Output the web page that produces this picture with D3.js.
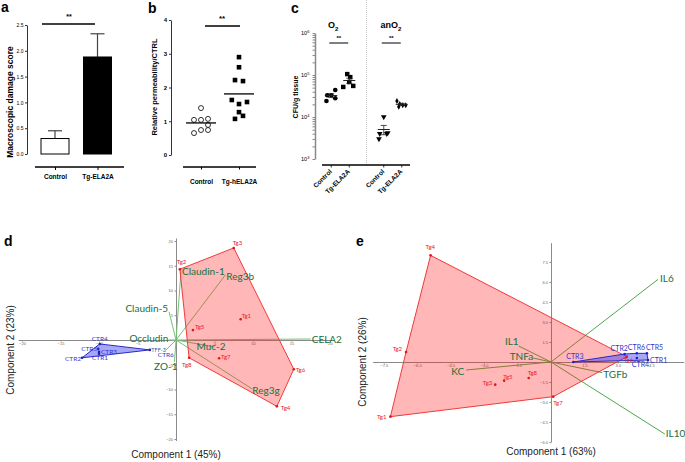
<!DOCTYPE html>
<html><head><meta charset="utf-8">
<script src="https://cdn.jsdelivr.net/npm/d3@7"></script>
<style>body{margin:0;background:#fff;}svg{display:block;}</style>
</head><body>
<svg id="chart" width="685" height="462"></svg>
<script>
// ---------------- DATA ----------------
// panel a
const aCategories = ["Control", "Tg-ELA2A"];
const aMeans = [0.30, 1.88];
const aErrUp = [0.15, 0.45];
const aTicks = [0, 0.5, 1.0, 1.5, 2.0, 2.5];
// panel b
const bCategories = ["Control", "Tg-hELA2A"];
const bControl = [1.39, 1.04, 1.04, 1.07, 0.89, 0.65, 0.74, 0.74];
const bControlJitter = [0, -1, 0, 1, 1, -1, 0, 1];
const bTg = [2.90, 2.60, 2.22, 2.19, 1.63, 1.51, 1.57, 1.27, 1.16, 1.07];
const bTgJitter = [0, 0, -0.5, 0.5, -0.9, 0, 1, 0, 0.5, -0.5];
const bMedians = [0.95, 1.81];
const bTicks = [0, 1, 2, 3, 4];
// panel c
const cConditions = ["O2", "anO2"];
const cGroups = ["Control", "Tg-ELA2A"];
const cO2Control = [33000, 33000, 44000, 24000, 28000];
const cO2ControlJitter = [-1, 0, 1, -1.2, 1];
const cO2Tg = [105000, 89000, 52000, 55000, 68000];
const cO2TgJitter = [-0.5, 0.25, -1.5, 1, 0];
const cAnO2Control = [10000, 4000, 4000, 3000, 4200];
const cAnO2ControlJitter = [0, -1, 0.75, -1.2, 1];
const cAnO2Tg = [24000, 20500, 19000, 19000, 17500];
const cAnO2TgJitter = [-1.2, -0.5, 0.25, 1, -0.75];
const cMajorTicks = [1e3, 1e4, 1e5, 1e6];
// panel d
const dTgLabels = ["Tg1", "Tg2", "Tg3", "Tg4", "Tg5", "Tg6", "Tg7", "Tg8"];
const dTgX = [8.4, 0.5, 7.5, 13.1, 2.2, 15.3, 5.6, 1.7];
const dTgY = [4.2, 14.3, 18.6, -13.4, 2.0, -5.9, -3.7, -3.6];
const dCtrLabels = ["CTR1", "CTR2", "CTR3", "CTR4", "CTR5", "CTR6"];
const dCtrX = [-10.0, -12.2, -10.0, -9.9, -10.1, -3.4];
const dCtrY = [-2.8, -3.6, -2.4, -0.8, -1.8, -2.0];
const dVarLabels = ["Claudin-1", "Reg3b", "CELA2", "Reg3g", "Muc-2", "Claudin-5", "Occludin", "TFF-3", "ZO-1"];
const dVarX = [0.65, 6.4, 17.5, 9.9, 5.0, -0.9, -1.0, -1.3, -0.2];
const dVarY = [13.9, 13.1, 0.2, -9.9, -1.4, 5.7, 0.0, -2.0, -4.4];
const dTicks = [-20, -15, -10, -5, 5, 10, 15, 20];
// panel e
const eTgLabels = ["Tg1", "Tg2", "Tg3", "Tg4", "Tg5", "Tg6", "Tg7", "Tg8"];
const eTgX = [-7.2, -6.5, -2.5, -5.4, -2.1, 3.4, 0.1, -1.0];
const eTgY = [-4.1, 0.75, -1.7, 8.0, -1.4, 0.4, -2.6, -1.2];
const eCtrLabels = ["CTR1", "CTR2", "CTR3", "CTR4", "CTR5", "CTR6"];
const eCtrX = [4.35, 3.3, 1.0, 3.85, 4.3, 3.85];
const eCtrY = [0.15, 0.6, 0.0, 0.3, 0.65, 0.65];
const eVarLabels = ["IL6", "IL10", "TGFb", "IL1", "TNFa", "KC"];
const eVarX = [4.8, 5.1, 2.3, -1.45, -0.8, -3.8];
const eVarY = [6.2, -5.4, -0.8, 1.2, 0.3, -0.6];
const eXTicks = [-7.5, -6.0, -4.5, -3.0, -1.5, 1.5, 3.0, 4.5];
const eYTicks = [-6.0, -4.5, -3.0, -1.5, 1.5, 3.0, 4.5, 6.0, 7.5];

// ---------------- LAYOUT / STYLE ----------------
const SANS = "'Liberation Sans', Arial, sans-serif";
const CAL = "Lato, 'Open Sans', sans-serif";
const RED = "#e8202a", BLUE = "#3535d0", GTXT = "#17703a";
const svg = d3.select("#chart");
svg.append("rect").attr("width", 685).attr("height", 462).attr("fill", "#fff");

function txt(g, s, x, y, o = {}) {
  const t = g.append("text").attr("x", x).attr("y", y).text(s)
    .attr("font-family", o.family || SANS).attr("font-size", o.size || 7)
    .attr("font-weight", o.weight || "normal").attr("fill", o.fill || "#000")
    .attr("text-anchor", o.anchor || "start");
  if (o.rotate !== undefined) t.attr("transform", `rotate(${o.rotate},${x},${y})`);
  return t;
}
function styleAxis(g, size, color, weight, fill) {
  g.select(".domain").attr("stroke", color);
  g.selectAll(".tick line").attr("stroke", color);
  g.selectAll(".tick text").attr("font-size", size).attr("font-family", SANS)
    .attr("fill", fill || "#000").attr("font-weight", weight || "normal");
}
// panel letters
[["a", 1, 12], ["b", 148, 13], ["c", 291, 13], ["d", 4, 246], ["e", 356, 246]].forEach(([l, x, y]) =>
  txt(svg, l, x, y, { size: 14, weight: "bold" }));

// ---------------- PANEL A ----------------
{
  const g = svg.append("g");
  const y = d3.scaleLinear().domain([0, 2.5]).range([154, 25]);
  const x = d3.scalePoint().domain(aCategories).range([55, 97.5]);
  const ax = g.append("g").attr("transform", "translate(27,0)")
    .call(d3.axisLeft(y).tickValues(aTicks).tickFormat(d3.format(".1f")).tickSize(2).tickSizeOuter(0).tickPadding(1.5));
  styleAxis(ax, 5, "#333");
  g.selectAll("line.err").data(aCategories).join("line")
    .attr("x1", d => x(d)).attr("x2", d => x(d))
    .attr("y1", (d, i) => y(aMeans[i])).attr("y2", (d, i) => y(aMeans[i] + aErrUp[i]))
    .attr("stroke", "#444").attr("stroke-width", 1.2);
  g.selectAll("line.cap").data(aCategories).join("line")
    .attr("x1", d => x(d) - 7).attr("x2", d => x(d) + 7)
    .attr("y1", (d, i) => y(aMeans[i] + aErrUp[i])).attr("y2", (d, i) => y(aMeans[i] + aErrUp[i]))
    .attr("stroke", "#444").attr("stroke-width", 1.2);
  g.selectAll("rect.bar").data(aCategories).join("rect")
    .attr("x", d => x(d) - 14).attr("width", 28)
    .attr("y", (d, i) => y(aMeans[i])).attr("height", (d, i) => y(0) - y(aMeans[i]))
    .attr("fill", (d, i) => i ? "#000" : "#fff").attr("stroke", "#000").attr("stroke-width", 1);
  const bx = g.append("g").attr("transform", "translate(0,167)")
    .call(d3.axisBottom(x).tickSize(3).tickSizeOuter(0).tickPadding(4));
  bx.select(".domain").remove();
  styleAxis(bx, 6.5, "#000", "bold");
  g.append("line").attr("x1", 35).attr("x2", 124).attr("y1", 167).attr("y2", 167).attr("stroke", "#000").attr("stroke-width", 1.5);
  g.append("line").attr("x1", 42).attr("x2", 95).attr("y1", 24).attr("y2", 24).attr("stroke", "#000").attr("stroke-width", 1.5);
  txt(g, "**", 69, 19, { size: 7, weight: "bold", anchor: "middle" });
  txt(g, "Macroscopic damage score", 13, 102, { size: 8.5, weight: "bold", anchor: "middle", rotate: -90 });
}

// ---------------- PANEL B ----------------
{
  const g = svg.append("g");
  const y = d3.scaleLinear().domain([0, 4]).range([155, 20]);
  const x = d3.scalePoint().domain(bCategories).range([201, 239]);
  const ax = g.append("g").attr("transform", "translate(171,0)")
    .call(d3.axisLeft(y).tickValues(bTicks).tickFormat(d3.format("d")).tickSize(2).tickSizeOuter(0).tickPadding(2));
  styleAxis(ax, 6, "#333", "bold");
  g.selectAll("circle.pt").data(bControl).join("circle")
    .attr("cx", (d, i) => x("Control") + bControlJitter[i] * 7).attr("cy", d => y(d)).attr("r", 2.5)
    .attr("fill", "#fff").attr("stroke", "#000").attr("stroke-width", 0.8);
  g.selectAll("rect.pt").data(bTg).join("rect")
    .attr("x", (d, i) => x("Tg-hELA2A") + bTgJitter[i] * 8 - 2.3).attr("y", d => y(d) - 2.3)
    .attr("width", 4.6).attr("height", 4.6).attr("fill", "#000");
  g.selectAll("line.med").data(bCategories).join("line")
    .attr("x1", d => x(d) - 15).attr("x2", d => x(d) + 15)
    .attr("y1", (d, i) => y(bMedians[i])).attr("y2", (d, i) => y(bMedians[i]))
    .attr("stroke", "#000").attr("stroke-width", 1.3);
  const bx = g.append("g").attr("transform", "translate(0,167)")
    .call(d3.axisBottom(x).tickSize(2.5).tickSizeOuter(0).tickPadding(10));
  bx.select(".domain").remove();
  styleAxis(bx, 6.5, "#000", "bold");
  g.append("line").attr("x1", 183).attr("x2", 256).attr("y1", 167).attr("y2", 167).attr("stroke", "#000").attr("stroke-width", 1.5);
  g.append("line").attr("x1", 205).attr("x2", 240).attr("y1", 26).attr("y2", 26).attr("stroke", "#000").attr("stroke-width", 1.5);
  txt(g, "**", 222, 21, { size: 8, weight: "bold", anchor: "middle" });
  txt(g, "Relative permeability/CTRL", 157, 87, { size: 7.5, weight: "bold", anchor: "middle", rotate: -90 });
}

// ---------------- PANEL C ----------------
{
  const g = svg.append("g");
  const xc = d3.scaleBand().domain(cConditions).range([314, 419]);
  const xg = d3.scalePoint().domain(cGroups).range([-9, 9]);
  const y = d3.scaleLog().domain([1e3, 1e6]).range([159, 33]);
  const cx = (c, gr) => xc(c) + xc.bandwidth() / 2 + xg(gr);
  g.append("line").attr("x1", xc("anO2")).attr("x2", xc("anO2")).attr("y1", 0).attr("y2", 165)
    .attr("stroke", "#b8b8b8").attr("stroke-width", 0.8).attr("stroke-dasharray", "1,1");
  const minor = [];
  for (let e = 3; e < 6; e++) for (let m = 1; m < 10; m++) minor.push(m * Math.pow(10, e));
  minor.push(1e6);
  const ax = g.append("g").attr("transform", "translate(315,0)")
    .call(d3.axisLeft(y).tickValues(minor).tickFormat("").tickSize(2.5).tickSizeOuter(0));
  styleAxis(ax, 5, "#888");
  ax.select(".domain").attr("stroke-width", 1.5);
  cMajorTicks.forEach(v => {
    const t = g.append("text").attr("x", 301).attr("y", y(v) + 2).attr("font-family", SANS).attr("font-size", 5.5).attr("fill", "#000");
    t.append("tspan").text("10");
    t.append("tspan").attr("dy", -2.5).attr("font-size", 4).text(Math.round(Math.log10(v)));
  });
  const series = [
    { c: "O2", gr: "Control", vals: cO2Control, jit: cO2ControlJitter, sym: d3.symbolCircle, size: 17, rot: 0 },
    { c: "O2", gr: "Tg-ELA2A", vals: cO2Tg, jit: cO2TgJitter, sym: d3.symbolSquare, size: 20, rot: 0 },
    { c: "anO2", gr: "Control", vals: cAnO2Control, jit: cAnO2ControlJitter, sym: d3.symbolTriangle, size: 14, rot: 180 },
    { c: "anO2", gr: "Tg-ELA2A", vals: cAnO2Tg, jit: cAnO2TgJitter, sym: d3.symbolDiamond, size: 10, rot: 0 }
  ];
  series.forEach(s => {
    const px = cx(s.c, s.gr);
    g.selectAll(null).data(s.vals).join("path")
      .attr("d", d3.symbol().type(s.sym).size(s.size))
      .attr("transform", (d, i) => `translate(${px + s.jit[i] * 4},${y(d)}) rotate(${s.rot})`)
      .attr("fill", "#000");
    const m = d3.mean(s.vals), se = d3.deviation(s.vals) / Math.sqrt(s.vals.length);
    const ln = (x1, x2, y1, y2, w) => g.append("line").attr("x1", x1).attr("x2", x2).attr("y1", y1).attr("y2", y2).attr("stroke", "#222").attr("stroke-width", w);
    ln(px - 6, px + 6, y(m), y(m), 1);
    ln(px, px, y(m - se), y(m + se), 0.8);
    ln(px - 3, px + 3, y(m + se), y(m + se), 0.8);
    ln(px - 3, px + 3, y(m - se), y(m - se), 0.8);
  });
  g.append("line").attr("x1", 322).attr("x2", 410).attr("y1", 165).attr("y2", 165).attr("stroke", "#000").attr("stroke-width", 1.3);
  cConditions.forEach(c => cGroups.forEach(gr => {
    const px = cx(c, gr);
    g.append("line").attr("x1", px).attr("x2", px).attr("y1", 165).attr("y2", 167.5).attr("stroke", "#000").attr("stroke-width", 0.8);
    txt(g, gr, px + 1, 172, { size: 6.5, weight: "bold", anchor: "end", rotate: -45 });
  }));
  cConditions.forEach(c => {
    const x1 = cx(c, "Control") - 2, x2 = cx(c, "Tg-ELA2A") - 1;
    g.append("line").attr("x1", x1).attr("x2", x2).attr("y1", 43).attr("y2", 43).attr("stroke", "#555").attr("stroke-width", 1.5);
    txt(g, "**", (x1 + x2) / 2, 40, { size: 6, weight: "bold", anchor: "middle" });
    const t = g.append("text").attr("x", xc(c) + 14).attr("y", 28).attr("font-family", SANS).attr("font-size", 9).attr("font-weight", "bold");
    t.append("tspan").text(c.replace("2", ""));
    t.append("tspan").attr("dy", 2.5).attr("font-size", 6).text("2");
  });
  txt(g, "CFU/g tissue", 298, 97, { size: 7, weight: "bold", anchor: "middle", rotate: -90 });
}

// ---------------- PCA helper ----------------
function pca(cfg) {
  const g = svg.append("g");
  const { x, y } = cfg;
  const axX = g.append("g").attr("transform", `translate(0,${y(0)})`)
    .call(d3.axisBottom(x).tickValues(cfg.xTicks).tickFormat(cfg.fmt).tickSize(1.5).tickSizeOuter(0).tickPadding(1));
  styleAxis(axX, 4, "#8a8a8a", "normal", "#666");
  const axY = g.append("g").attr("transform", `translate(${x(0)},0)`)
    .call(d3.axisLeft(y).tickValues(cfg.yTicks).tickFormat(cfg.fmt).tickSize(1.5).tickSizeOuter(0).tickPadding(1.5));
  styleAxis(axY, 4, "#8a8a8a", "normal", "#666");
  // loadings
  cfg.varLabels.forEach((l, i) => {
    g.append("line").attr("x1", x(0)).attr("y1", y(0)).attr("x2", x(cfg.varX[i])).attr("y2", y(cfg.varY[i]))
      .attr("stroke", cfg.lineColor).attr("stroke-width", 1);
  });
  const tgPts = cfg.tgX.map((v, i) => [x(v), y(cfg.tgY[i])]);
  const ctrPts = cfg.ctrX.map((v, i) => [x(v), y(cfg.ctrY[i])]);
  g.append("path").attr("d", "M" + d3.polygonHull(tgPts).join("L") + "Z")
    .attr("fill", "#ff1f1f").attr("fill-opacity", 0.32).attr("stroke", "#f23a3a").attr("stroke-width", 1);
  g.append("path").attr("d", "M" + d3.polygonHull(ctrPts).join("L") + "Z")
    .attr("fill", "#3c3cf0").attr("fill-opacity", 0.45).attr("stroke", "#2a2ac8").attr("stroke-width", 1);
  g.selectAll(null).data(tgPts).join("circle").attr("cx", d => d[0]).attr("cy", d => d[1]).attr("r", 1.3).attr("fill", "#e0141c");
  g.selectAll(null).data(ctrPts).join("circle").attr("cx", d => d[0]).attr("cy", d => d[1]).attr("r", 1.3).attr("fill", "#2020c8");
  cfg.ctrLabels.forEach((l, i) => {
    const o = cfg.ctrOff[l];
    txt(g, l, ctrPts[i][0] + o[0], ctrPts[i][1] + o[1], { family: CAL, size: cfg.ctrSize, fill: BLUE, anchor: o[2] || "start" });
  });
  cfg.tgLabels.forEach((l, i) => {
    const o = cfg.tgOff[l];
    txt(g, l, tgPts[i][0] + o[0], tgPts[i][1] + o[1], { family: CAL, size: 6, fill: RED, anchor: o[2] || "start" });
  });
  cfg.varLabels.forEach((l, i) => {
    const o = cfg.varOff[l];
    txt(g, l, x(cfg.varX[i]) + o[0], y(cfg.varY[i]) + o[1], { family: CAL, size: o[3] || 10, fill: o[4] || GTXT, anchor: o[2] || "start" });
  });
  txt(g, cfg.xTitle[0], cfg.xTitle[1], cfg.xTitle[2], { size: 10, fill: "#222", anchor: "middle" });
  txt(g, cfg.yTitle[0], cfg.yTitle[1], cfg.yTitle[2], { size: 10, fill: "#222", anchor: "middle", rotate: -90 });
}

// ---------------- PANEL D ----------------
pca({
  x: d3.scaleLinear().domain([-20.5, 20.5]).range([176 - 20.5 * 7.7, 176 + 20.5 * 7.7]),
  y: d3.scaleLinear().domain([-20.3, 20.6]).range([340 + 20.3 * 4.95, 340 - 20.6 * 4.95]),
  xTicks: dTicks, yTicks: dTicks, fmt: d3.format("d"),
  tgLabels: dTgLabels, tgX: dTgX, tgY: dTgY,
  ctrLabels: dCtrLabels, ctrX: dCtrX, ctrY: dCtrY,
  varLabels: dVarLabels, varX: dVarX, varY: dVarY,
  lineColor: "#72c272", ctrSize: 6.5,
  tgOff: { Tg1: [1, -1], Tg2: [-3, -5], Tg3: [-1, -3], Tg4: [4, 4], Tg5: [2, -1], Tg6: [2, 3], Tg7: [2, 1], Tg8: [-7, 9] },
  ctrOff: { CTR1: [-7, 6], CTR2: [-1, 3, "end"], CTR3: [2, 2], CTR4: [-8, -3], CTR5: [-1, 2, "end"], CTR6: [8, 7] },
  varOff: {
    "Claudin-1": [1, 4], "Reg3b": [1, 5], "CELA2": [1, 3.5], "Reg3g": [0, 5], "Muc-2": [-18, 3],
    "Claudin-5": [-1, 0.5, "end"], "Occludin": [0, 2, "end"], "TFF-3": [0, 2, "end", 5.5, "#2f5f9a"], "ZO-1": [3, 8, "end"]
  },
  xTitle: ["Component 1 (45%)", 176, 458], yTitle: ["Component 2 (23%)", 14, 350]
});

// ---------------- PANEL E ----------------
pca({
  x: d3.scaleLinear().domain([-8.0, 5.95]).range([551 - 8.0 * 22.3, 551 + 5.95 * 22.3]),
  y: d3.scaleLinear().domain([-6.0, 8.95]).range([362 + 6.0 * 13.33, 362 - 8.95 * 13.33]),
  xTicks: eXTicks, yTicks: eYTicks, fmt: d3.format(".1f"),
  tgLabels: eTgLabels, tgX: eTgX, tgY: eTgY,
  ctrLabels: eCtrLabels, ctrX: eCtrX, ctrY: eCtrY,
  varLabels: eVarLabels, varX: eVarX, varY: eVarY,
  lineColor: "#4fa84a", ctrSize: 7,
  tgOff: { Tg1: [-4, 2, "end"], Tg2: [-4, -1, "end"], Tg3: [-3, 0, "end"], Tg4: [-5, -6], Tg5: [-1, -2], Tg6: [-3, 5], Tg7: [0, 8], Tg8: [-1, -3] },
  ctrOff: { CTR1: [2, 3], CTR2: [-14, -3], CTR3: [-7, -3], CTR4: [-5, 9], CTR5: [-1, -3], CTR6: [-9, -3] },
  varOff: { IL6: [2, 3], IL10: [1, 3], TGFb: [1, 5], IL1: [0, -1, "end"], TNFa: [0, 1.5, "end"], KC: [-2, 5, "end"] },
  xTitle: ["Component 1 (63%)", 551, 455], yTitle: ["Component 2 (26%)", 366, 362]
});
</script>
</body></html>
